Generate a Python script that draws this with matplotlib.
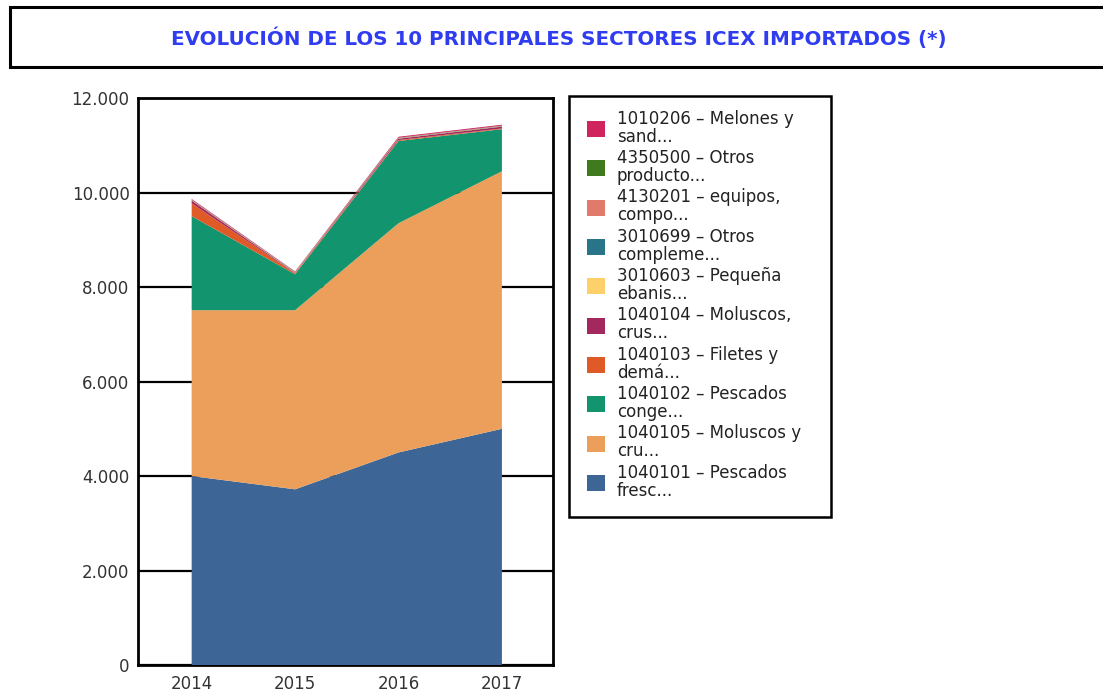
import matplotlib
matplotlib.use("Agg")
import matplotlib.pyplot as plt
from matplotlib.patches import Rectangle
from matplotlib.ticker import FuncFormatter, MultipleLocator
from matplotlib import font_manager

years = ["2014", "2015", "2016", "2017"]

# stacking order: bottom -> top
labels = [
    "1040101 – Pescados\nfresc...",
    "1040105 – Moluscos y\ncru...",
    "1040102 – Pescados\nconge...",
    "1040103 – Filetes y\ndemá...",
    "1040104 – Moluscos,\ncrus...",
    "3010603 – Pequeña\nebanis...",
    "3010699 – Otros\ncompleme...",
    "4130201 – equipos,\ncompo...",
    "4350500 – Otros\nproducto...",
    "1010206 – Melones y\nsand...",
]
pescados_fresc = [4000, 3720, 4500, 5000]
moluscos_y_cru = [3510, 3790, 4850, 5450]
pescados_conge = [1990, 760, 1740, 890]
filetes = [270, 20, 20, 15]
moluscos_crus = [60, 10, 30, 40]
pequena_ebanis = [5, 5, 5, 5]
otros_compleme = [5, 5, 5, 5]
equipos = [5, 5, 5, 5]
otros_producto = [5, 5, 5, 5]
melones = [15, 10, 20, 20]

series = [pescados_fresc, moluscos_y_cru, pescados_conge, filetes, moluscos_crus,
          pequena_ebanis, otros_compleme, equipos, otros_producto, melones]
colors = ["#3d6595", "#eb9f5a", "#12956f", "#e05a28", "#a3285e",
          "#fdd06b", "#2a748a", "#e07a6a", "#3f7a1f", "#d0245e"]

available = {f.name for f in font_manager.fontManager.ttflist}
narrow = "Liberation Sans Narrow" in available
title_font = "Liberation Sans Narrow" if narrow else "DejaVu Sans"
title_size = 16 if narrow else 14.3

fig = plt.figure(figsize=(11.03, 6.95), dpi=100)

# title box
fig.patches.append(Rectangle((0.009, 0.9036), 1.0, 0.0864, transform=fig.transFigure,
                             facecolor="white", edgecolor="black", linewidth=2.2))
fig.text(0.507, 0.945, "EVOLUCIÓN DE LOS 10 PRINCIPALES SECTORES ICEX IMPORTADOS (*)",
         ha="center", va="center", color="#2f3cf0", fontsize=title_size, fontweight="bold",
         family=title_font)

ax = fig.add_axes([0.125, 0.043, 0.376, 0.816])
x = range(len(years))
ax.stackplot(x, *series, colors=colors, labels=labels, zorder=3, linewidth=0)
ax.set_xlim(-0.52, 3.49)
ax.set_ylim(0, 12000)
ax.yaxis.set_major_locator(MultipleLocator(2000))
ax.yaxis.set_major_formatter(FuncFormatter(lambda v, p: f"{int(v):,}".replace(",", ".")))
ax.set_xticks(list(x))
ax.set_xticklabels(years)
ax.grid(axis="y", color="black", linewidth=1.6, zorder=0)
ax.set_axisbelow(True)
ax.tick_params(length=0, labelsize=12, colors="#333333")
ax.tick_params(axis="y", pad=6)
ax.tick_params(axis="x", pad=7)
for s in ax.spines.values():
    s.set_linewidth(2)

# legend box
fig.patches.append(Rectangle((0.516, 0.256), 0.237, 0.606, transform=fig.transFigure,
                             facecolor="white", edgecolor="black", linewidth=1.8))
handles, labs = ax.get_legend_handles_labels()
leg = fig.legend(handles[::-1], labs[::-1], loc="upper left", bbox_to_anchor=(0.5245, 0.854),
                 frameon=False, fontsize=12, handlelength=1.1, handleheight=1.1,
                 handletextpad=0.7, labelspacing=0.2, borderpad=0)
for t in leg.get_texts():
    t.set_linespacing(1.0)
    t.set_color("#222222")

fig.savefig("out.png", dpi=100)
